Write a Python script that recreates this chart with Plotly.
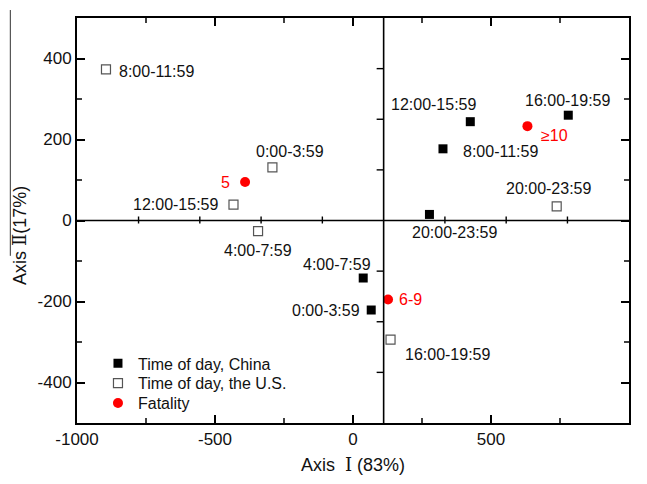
import plotly.graph_objects as go

# ---- data ----
china_labels = ["0:00-3:59", "4:00-7:59", "8:00-11:59", "12:00-15:59", "16:00-19:59", "20:00-23:59"]
china_x = [66, 37, 326, 425, 780, 277]
china_y = [-221, -142, 177, 244, 260, 15]

us_labels = ["0:00-3:59", "4:00-7:59", "8:00-11:59", "12:00-15:59", "16:00-19:59", "20:00-23:59"]
us_x = [-292, -344, -895, -433, 136, 738]
us_y = [131, -26, 373, 39, -294, 35]

fatal_labels = ["5", "6-9", "\u226510"]
fatal_x = [-391, 127, 632]
fatal_y = [95, -195, 233]

x_ticks = [-1000, -500, 0, 500, 1000]
x_tick_text = ["-1000", "-500", "0", "500", "1000"]
x_minor = [-750, -250, 250, 750]
y_ticks = [-400, -200, 0, 200, 400]
y_tick_text = ["-400", "-200", "0", "200", "400"]
y_minor = [-300, -100, 100, 300]

# position of the inner cross axes
cross_x = 111
cross_y = 0

# ---- label placement (style) ----
china_pos = [("right", -9, 0), ("center", -26, 14), ("left", 18, -3),
             ("center", -36, 17), ("center", 0, 15), ("center", 26, -18)]
us_pos = [("center", 18, 16), ("center", 0, -19), ("left", 11, -2),
          ("right", -12, 0), ("left", 12, -15), ("center", -8, 18)]
fatal_pos = [("right", -13, 0), ("left", 9, 0), ("left", 12, -9)]

FONT = "Liberation Sans, Arial, sans-serif"
ROMAN = "<span style=\"font-family:'DejaVu Serif'\">%s</span>"
RED = "#ff0000"
TXT = "#111111"

fig = go.Figure()
fig.add_trace(go.Scatter(x=china_x, y=china_y, mode="markers", name="Time of day, China",
                         legend="legend",
                         marker=dict(symbol="square", size=9, color="black",
                                     line=dict(width=0))))
fig.add_trace(go.Scatter(x=us_x, y=us_y, mode="markers", name="Time of day, the U.S.",
                         legend="legend2",
                         marker=dict(symbol="square-open", size=9, color="#555555",
                                     line=dict(width=1.2))))
fig.add_trace(go.Scatter(x=fatal_x, y=fatal_y, mode="markers", name="Fatality",
                         legend="legend3",
                         marker=dict(symbol="circle", size=10, color=RED,
                                     line=dict(width=0))))

annotations = []
def add_labels(xs, ys, labels, pos, color):
    for x, y, t, (anc, dx, dy) in zip(xs, ys, labels, pos):
        annotations.append(dict(x=x, y=y, xref="x", yref="y", text=t, showarrow=False,
                                xanchor=anc, yanchor="middle", xshift=dx, yshift=dy,
                                font=dict(family=FONT, size=16, color=color)))

add_labels(china_x, china_y, china_labels, china_pos, TXT)
add_labels(us_x, us_y, us_labels, us_pos, TXT)
add_labels(fatal_x, fatal_y, fatal_labels, fatal_pos, RED)

# y-axis title placed as annotation
annotations.append(dict(x=-0.103, y=0.462, xref="paper", yref="paper",
                        text="Axis " + ROMAN % "\u2161" + "(17%)", textangle=-90,
                        showarrow=False, xanchor="center", yanchor="middle",
                        font=dict(family=FONT, size=18, color=TXT)))

shapes = []
# inner cross lines
shapes.append(dict(type="line", xref="x", yref="paper", x0=cross_x, x1=cross_x, y0=0, y1=1,
                   line=dict(color="black", width=1.6)))
shapes.append(dict(type="line", xref="paper", yref="y", x0=0, x1=1, y0=cross_y, y1=cross_y,
                   line=dict(color="black", width=1.6)))
# ticks on the horizontal cross line (every 222 units, offset by 111)
for k in range(-4, 4):
    tx = 111 + 222 * k
    if tx == cross_x:
        continue
    shapes.append(dict(type="line", xref="x", yref="y", ysizemode="pixel", yanchor=cross_y,
                       x0=tx, x1=tx, y0=-3, y1=4, line=dict(color="black", width=1.4)))
# ticks on the vertical cross line (every 125 units)
for k in [-3, -2, -1, 1, 2, 3]:
    ty = 125 * k
    shapes.append(dict(type="line", xref="x", yref="y", xsizemode="pixel", xanchor=cross_x,
                       x0=-7, x1=0, y0=ty, y1=ty, line=dict(color="black", width=1.4)))
# minor ticks on the frame (inside, bottom/top/left/right)
MINLEN = 5
for mx in x_minor:
    shapes.append(dict(type="line", xref="x", yref="paper", ysizemode="pixel", yanchor=0,
                       x0=mx, x1=mx, y0=0, y1=MINLEN, line=dict(color="black", width=1.5)))
    shapes.append(dict(type="line", xref="x", yref="paper", ysizemode="pixel", yanchor=1,
                       x0=mx, x1=mx, y0=-MINLEN, y1=0, line=dict(color="black", width=1.5)))
for my in y_minor:
    shapes.append(dict(type="line", xref="paper", yref="y", xsizemode="pixel", xanchor=0,
                       x0=0, x1=MINLEN, y0=my, y1=my, line=dict(color="black", width=1.5)))
    shapes.append(dict(type="line", xref="paper", yref="y", xsizemode="pixel", xanchor=1,
                       x0=-MINLEN, x1=0, y0=my, y1=my, line=dict(color="black", width=1.5)))
# stray overline artifact near the y title
shapes.append(dict(type="line", xref="paper", yref="paper", x0=-0.1208, x1=-0.1208,
                   y0=1.0197, y1=0.4128, line=dict(color="#333333", width=1), layer="above"))

axis_common = dict(showgrid=False, zeroline=False, showline=True, linecolor="black",
                   linewidth=2, mirror="ticks", ticks="inside", ticklen=8, tickwidth=1.5,
                   tickcolor="black", tickfont=dict(family=FONT, size=17, color=TXT))

legend_common = dict(x=0.038, xanchor="left", yanchor="top", bgcolor="rgba(0,0,0,0)",
                     font=dict(family=FONT, size=16, color=TXT), itemwidth=30)

fig.update_layout(
    width=647, height=484,
    margin=dict(l=77, r=18, t=18, b=59),
    plot_bgcolor="white", paper_bgcolor="white",
    font=dict(family=FONT, color=TXT),
    xaxis=dict(range=[-1000, 1000], tickmode="array", tickvals=x_ticks, ticktext=x_tick_text,
               title=dict(text="Axis  " + ROMAN % "\u2160" + " (83%)", standoff=10,
                          font=dict(family=FONT, size=18, color=TXT)),
               **axis_common),
    yaxis=dict(range=[-500, 500], tickmode="array", tickvals=y_ticks, ticktext=y_tick_text,
               **axis_common),
    legend=dict(y=0.1892, **legend_common),
    legend2=dict(y=0.1400, **legend_common),
    legend3=dict(y=0.0909, **legend_common),
    showlegend=True,
    annotations=annotations,
    shapes=shapes,
)

fig.write_html("out.html")
